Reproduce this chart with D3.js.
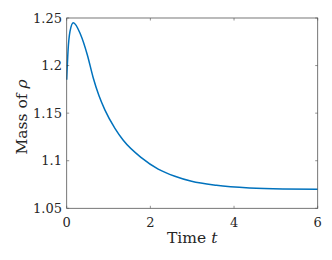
<!DOCTYPE html>
<html>
<head>
<meta charset="utf-8">
<script src="https://d3js.org/d3.v7.min.js"></script>
<style>
  body { margin: 0; background: #fff; }
  svg text { font-family: "DejaVu Serif", serif; fill: #262626; }
</style>
</head>
<body>
<svg width="332" height="260"></svg>
<script>
// values
const time = [0, 0.031, 0.079, 0.158, 0.334, 0.492, 0.635, 0.77, 0.915, 1.153, 1.352,
              1.791, 2.187, 2.586, 2.985, 3.58, 4.37, 5.17, 6];
const mass = [1.1851, 1.2149, 1.2360, 1.2451, 1.2324, 1.2114, 1.1870, 1.1685, 1.1532, 1.1340, 1.1215,
              1.1030, 1.0912, 1.0837, 1.0784, 1.0742, 1.0714, 1.0703, 1.0700];
const xTicks = [0, 2, 4, 6];
const yTicks = [1.05, 1.1, 1.15, 1.2, 1.25];

const svg = d3.select("svg");
const mLeft = 66.7, mRight = 317.7, mTop = 18, mBottom = 208.3;

const x = d3.scaleLinear().domain([0, 6]).range([mLeft, mRight]);
const y = d3.scaleLinear().domain([1.05, 1.25]).range([mBottom, mTop]);

const pts = time.map((t, i) => ({t: t, v: mass[i]}));

// curve
svg.append("path")
  .datum(pts)
  .attr("fill", "none")
  .attr("stroke", "#0072BD")
  .attr("stroke-width", 1.5)
  .attr("d", d3.line().x(d => x(d.t)).y(d => y(d.v)).curve(d3.curveMonotoneX));

// ticks inside, on all sides
const tk = 2.5;
svg.selectAll(".xt").data(xTicks).enter().append("path")
  .attr("stroke", "#262626").attr("stroke-width", 0.5)
  .attr("d", d => `M${x(d)},${mBottom}v${-tk}M${x(d)},${mTop}v${tk}`);
svg.selectAll(".yt").data(yTicks).enter().append("path")
  .attr("stroke", "#262626").attr("stroke-width", 0.5)
  .attr("d", d => `M${mLeft},${y(d)}h${tk}M${mRight},${y(d)}h${-tk}`);

// frame
svg.append("rect")
  .attr("x", mLeft).attr("y", mTop)
  .attr("width", mRight - mLeft).attr("height", mBottom - mTop)
  .attr("fill", "none").attr("stroke", "#555").attr("stroke-width", 0.8);

// tick labels
svg.selectAll(".xl").data(xTicks).enter().append("text")
  .attr("x", d => x(d)).attr("y", 227)
  .attr("text-anchor", "middle")
  .style("font-size", "13px")
  .text(d => d);
svg.selectAll(".yl").data(yTicks).enter().append("text")
  .attr("x", 62).attr("y", d => y(d) + 4.7)
  .attr("text-anchor", "end")
  .style("font-size", "13px")
  .text(d => d3.format("")(d));

// axis labels
const xl = svg.append("text")
  .attr("x", (mLeft + mRight) / 2).attr("y", 243)
  .attr("text-anchor", "middle")
  .style("font-size", "15.5px");
xl.append("tspan").text("Time ");
xl.append("tspan").style("font-style", "italic").text("t");

const yl = svg.append("text")
  .attr("transform", `translate(27,117) rotate(-90)`)
  .attr("text-anchor", "middle")
  .style("font-size", "15.5px");
yl.append("tspan").text("Mass of ");
yl.append("tspan").style("font-style", "italic").text("ρ");
</script>
</body>
</html>
